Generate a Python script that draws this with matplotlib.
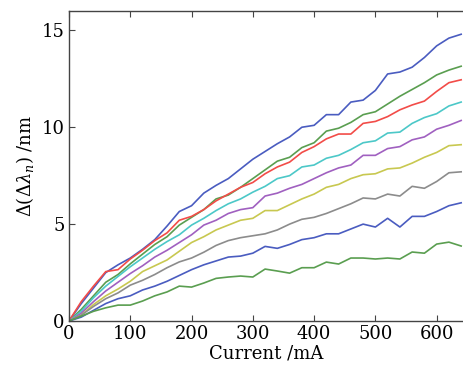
import matplotlib
matplotlib.use("Agg")
import matplotlib.pyplot as plt
import numpy as np

plt.rcParams['font.family'] = ['DejaVu Serif']
plt.rcParams['mathtext.fontset'] = 'dejavuserif'

# 驱动电流 (mA)，每 20 mA 一个点
current = np.arange(0, 641, 20)

# 各通道波长漂移 (nm)
blue_1 = [0, 0.9, 1.7, 2.5, 2.9, 3.25, 3.7, 4.2, 4.9, 5.65, 5.95, 6.6, 7.0, 7.35, 7.85, 8.35, 8.75,
          9.15, 9.5, 10.0, 10.1, 10.65, 10.65, 11.3, 11.4, 11.9, 12.75, 12.85, 13.1, 13.6, 14.2, 14.6, 14.8]
green_1 = [0, 0.6, 1.3, 2.0, 2.4, 2.95, 3.45, 3.95, 4.35, 4.95, 5.35, 5.75, 6.3, 6.5, 6.9, 7.35, 7.8,
           8.25, 8.45, 8.95, 9.2, 9.8, 9.95, 10.25, 10.65, 10.8, 11.2, 11.6, 11.95, 12.3, 12.7, 12.95, 13.15]
red = [0, 1.0, 1.8, 2.55, 2.65, 3.2, 3.65, 4.15, 4.55, 5.2, 5.4, 5.75, 6.2, 6.55, 6.9, 7.15, 7.6,
       7.95, 8.2, 8.7, 9.0, 9.4, 9.65, 9.65, 10.2, 10.3, 10.55, 10.9, 11.15, 11.35, 11.85, 12.3, 12.45]
cyan = [0, 0.5, 1.2, 1.8, 2.3, 2.8, 3.25, 3.7, 4.1, 4.45, 4.95, 5.3, 5.7, 6.05, 6.3, 6.65, 6.95,
        7.35, 7.5, 7.95, 8.05, 8.4, 8.55, 8.85, 9.2, 9.3, 9.7, 9.75, 10.2, 10.5, 10.7, 11.1, 11.3]
magenta = [0, 0.4, 1.0, 1.55, 2.0, 2.45, 2.85, 3.3, 3.65, 4.05, 4.45, 4.95, 5.2, 5.55, 5.75, 5.85, 6.45,
           6.6, 6.85, 7.05, 7.35, 7.65, 7.9, 8.05, 8.55, 8.55, 8.9, 9.0, 9.35, 9.5, 9.9, 10.1, 10.35]
yellow = [0, 0.3, 0.85, 1.3, 1.65, 2.05, 2.55, 2.85, 3.15, 3.6, 4.05, 4.35, 4.7, 4.95, 5.2, 5.3, 5.7,
          5.7, 6.0, 6.3, 6.55, 6.9, 7.05, 7.35, 7.55, 7.6, 7.85, 7.9, 8.15, 8.45, 8.7, 9.05, 9.1]
gray = [0, 0.3, 0.75, 1.15, 1.45, 1.85, 2.1, 2.4, 2.75, 3.05, 3.25, 3.55, 3.9, 4.15, 4.3, 4.4, 4.5,
        4.7, 5.0, 5.25, 5.35, 5.55, 5.8, 6.05, 6.35, 6.3, 6.55, 6.45, 6.95, 6.85, 7.2, 7.65, 7.7]
blue_2 = [0, 0.2, 0.55, 0.9, 1.15, 1.3, 1.6, 1.8, 2.05, 2.35, 2.65, 2.9, 3.1, 3.3, 3.35, 3.5, 3.85,
          3.75, 3.95, 4.2, 4.3, 4.5, 4.5, 4.75, 5.0, 4.85, 5.3, 4.85, 5.4, 5.4, 5.65, 5.95, 6.1]
green_2 = [0, 0.25, 0.5, 0.68, 0.82, 0.82, 1.03, 1.3, 1.5, 1.8, 1.75, 1.96, 2.2, 2.27, 2.32, 2.27, 2.68,
           2.58, 2.47, 2.75, 2.75, 3.04, 2.94, 3.25, 3.25, 3.2, 3.25, 3.2, 3.56, 3.5, 3.97, 4.07, 3.87]

series = [
    (blue_1, '#4a5cc0'),
    (green_1, '#5a9e50'),
    (red, '#f24c48'),
    (cyan, '#4cc8c8'),
    (magenta, '#a060c0'),
    (yellow, '#c8c850'),
    (gray, '#8c8c8c'),
    (blue_2, '#4a5cc0'),
    (green_2, '#5a9e50'),
]

fig = plt.figure(figsize=(4.63, 3.73), dpi=100)
ax = fig.add_axes([69 / 463, 52 / 373, 394 / 463, 310 / 373])

for vals, col in series:
    ax.plot(current, vals, color=col, lw=1.2)

ax.set_xlim(0, 643)
ax.set_ylim(0, 16)
ax.set_xticks([0, 100, 200, 300, 400, 500, 600])
ax.set_yticks([0, 5, 10, 15])
ax.tick_params(direction='in', top=True, labelsize=13, length=4, color='#444444', pad=3)
ax.spines['right'].set_visible(False)
for s in ['left', 'bottom', 'top']:
    ax.spines[s].set_color('#444444')
    ax.spines[s].set_linewidth(1.0)

ax.set_xlabel('Current /mA', fontsize=13, labelpad=1)
ax.set_ylabel(r'$\Delta(\Delta\lambda_n)$ /nm', fontsize=13, labelpad=4)

fig.savefig('out.png', dpi=100)
